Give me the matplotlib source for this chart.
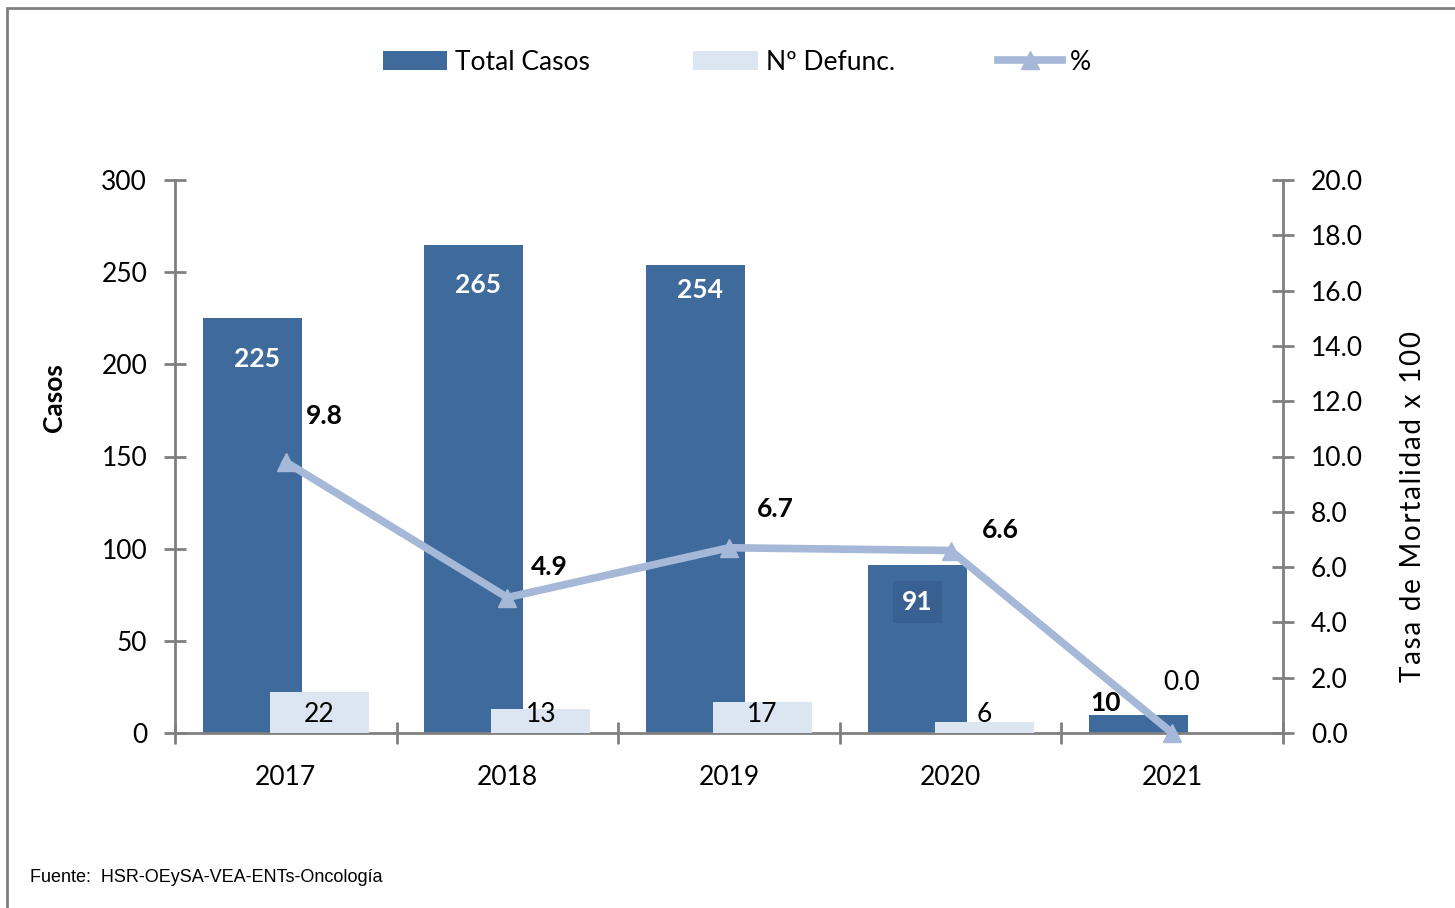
import numpy as np
import matplotlib.pyplot as plt
from matplotlib.patches import Rectangle

years = ["2017", "2018", "2019", "2020", "2021"]
total_casos = [225, 265, 254, 91, 10]
defunciones = [22, 13, 17, 6, 0]
tasa = [9.8, 4.9, 6.7, 6.6, 0.0]

# label nudges (points) for the % labels, as placed in the original
tasa_dx = [28, 30, 33, 36, 7]
tasa_dy = [33, 22, 28, 15, 36]
total_dy = [22, 22, 13.5, 20, 0]

dark_blue = "#3F6A9C"
light_blue = "#DCE6F2"
line_blue = "#A5B8D7"
grey = "#808080"

plt.rcParams['font.family'] = ['Lato', 'DejaVu Sans']

fig = plt.figure(figsize=(14.55, 9.08), dpi=100)
fig.patches.append(Rectangle((7 / 1455, -0.1), 1.2, 1 - 8 / 908 + 0.1,
                             transform=fig.transFigure, fill=False,
                             edgecolor=grey, linewidth=2))

ax = fig.add_axes([175 / 1455, 1 - 733 / 908, 1108 / 1455, 553 / 908])
ax2 = ax.twinx()

x = np.arange(len(years))
w = 0.447
off = 0.151
b1 = ax.bar(x - off, total_casos, w, color=dark_blue, label="Total Casos", zorder=2)
b2 = ax.bar(x + off, defunciones, w, color=light_blue, label="Nº Defunc.", zorder=3)
ln, = ax2.plot(x, tasa, color=line_blue, linewidth=5.5, marker="^", markersize=13,
               label="%", zorder=5, clip_on=False)

ax.set_xlim(-0.5, len(years) - 0.5)
ax.set_ylim(0, 300)
ax2.set_ylim(0, 20)
ax.set_yticks(range(0, 301, 50))
ax2.set_yticks(np.arange(0, 20.1, 2))
ax2.set_yticklabels([f"{v:.1f}" for v in np.arange(0, 20.1, 2)])
ax.set_xticks(x)
ax.set_xticklabels(years)
ax.set_xticks(np.arange(-0.5, len(years), 1), minor=True)

for a in (ax, ax2):
    for s in a.spines.values():
        s.set_visible(False)
ax.spines['left'].set_visible(True)
ax.spines['bottom'].set_visible(True)
ax2.spines['right'].set_visible(True)
for s in (ax.spines['left'], ax.spines['bottom'], ax2.spines['right']):
    s.set_color(grey)
    s.set_linewidth(2)

ax.tick_params(axis='y', direction='inout', length=16, width=2, color=grey,
               labelsize=19, pad=12)
ax2.tick_params(axis='y', direction='inout', length=16, width=2, color=grey,
                labelsize=19, pad=12)
ax.tick_params(axis='x', which='major', length=0, labelsize=19, pad=23)
ax.tick_params(axis='x', which='minor', direction='inout', length=16, width=2,
               color=grey)

ax.set_ylabel("Casos", fontsize=19, fontweight='bold')
ax.yaxis.set_label_coords(-0.098, 0.606)
ax2.set_ylabel("\u200a".join("Tasa de Mortalidad x 100"), fontsize=20)
ax2.yaxis.set_label_coords(1.106, 0.409)

ax.set_zorder(ax2.get_zorder() - 1)
ax.patch.set_visible(False)

# total labels
for i, v in enumerate(total_casos):
    if v < 30:
        ax2.text(x[i] - off - 0.152, v * 20 / 300, str(v), ha='center', va='bottom',
                 fontsize=19, fontweight='bold', color='black', zorder=6)
    elif i == 3:
        ax.text(x[i] - off, v - total_dy[i], str(v), ha='center', va='center',
                fontsize=19, fontweight='bold', color='white', zorder=6,
                bbox=dict(boxstyle='square,pad=0.35', fc='#386091', ec='none'))
    else:
        ax.text(x[i] - off + 0.02, v - total_dy[i], str(v), ha='center', va='center',
                fontsize=19, fontweight='bold', color='white', zorder=6)

# defunciones labels
for i, v in enumerate(defunciones):
    if v == 0:
        continue
    ax.text(x[i] + off, 10, str(v), ha='center', va='center',
            fontsize=19, color='black', zorder=6)

# tasa labels
for i, v in enumerate(tasa):
    ax2.annotate(f"{v:.1f}", (x[i], v), xytext=(tasa_dx[i], tasa_dy[i]),
                 textcoords='offset points', ha='center', va='center',
                 fontsize=19, fontweight='normal' if v == 0 else 'bold',
                 color='black', zorder=6)

fig.legend([b1, b2, ln], ["Total Casos", "Nº Defunc.", "%"], loc='center',
           bbox_to_anchor=(737 / 1455, 1 - 62 / 908), ncol=3, frameon=False,
           fontsize=19, handlelength=2.45, handleheight=0.75, columnspacing=3.9,
           handletextpad=0.3)

fig.text(30 / 1455, 1 - 877 / 908, "Fuente:  HSR-OEySA-VEA-ENTs-Oncología",
         fontsize=13, family='Liberation Sans', va='center', ha='left')

fig.savefig("out.png", dpi=100)
